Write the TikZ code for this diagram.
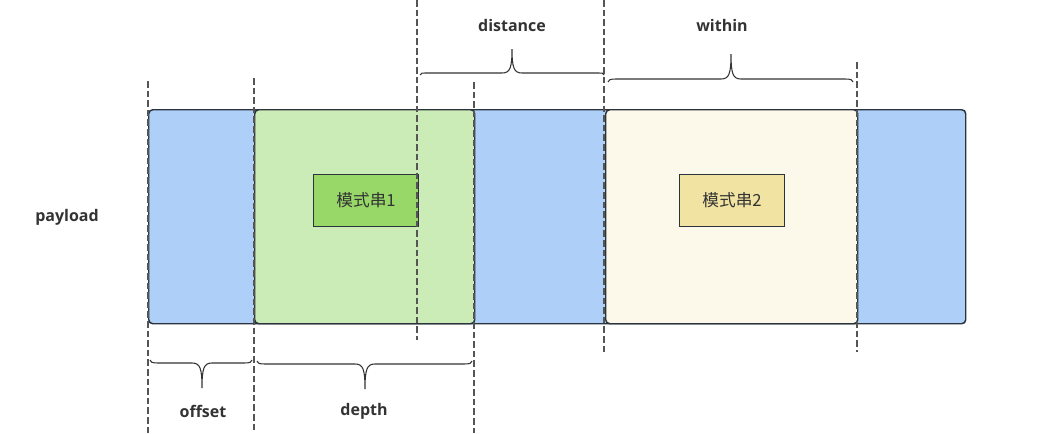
\documentclass[tikz,border=0pt]{standalone}
\usepackage{fontspec}
\setmainfont{Open Sans}
\newfontfamily\cjk{Noto Sans CJK SC}
\definecolor{cblue}{HTML}{AECFF7}
\definecolor{cgreen}{HTML}{CCECB7}
\definecolor{cgreenbox}{HTML}{97D868}
\definecolor{ccream}{HTML}{FCF8EA}
\definecolor{cyellow}{HTML}{F1E3A2}
\definecolor{cstroke}{HTML}{2B333D}
\definecolor{ctext}{HTML}{333333}
\definecolor{cdash}{HTML}{555555}
\tikzset{
  region/.style={draw=cstroke, line width=1.1pt, rounded corners=3pt},
  patbox/.style={draw=cstroke, line width=0.9pt},
  guide/.style={draw=cdash, line width=0.8pt, dash pattern=on 5pt off 2.2pt},
  bracepath/.style={draw=ctext, line width=0.8pt},
  lbl/.style={font=\bfseries\fontsize{12}{14}\selectfont, text=ctext},
  cjklbl/.style={font=\cjk\fontsize{12.5}{14}\selectfont, text=ctext},
}
\begin{document}
\begin{tikzpicture}[x=0.75pt,y=-0.75pt]
\useasboundingbox (0,0) rectangle (1044,433);
% regions
\node[region, fill=cblue, minimum width=817*0.75pt, minimum height=214*0.75pt, anchor=north west, inner sep=0pt] (payloadbox) at (148,109) {};
\node[region, fill=cgreen, minimum width=220*0.75pt, minimum height=214*0.75pt, anchor=north west, inner sep=0pt] (depthbox) at (254,109) {};
\node[region, fill=ccream, minimum width=252*0.75pt, minimum height=214*0.75pt, anchor=north west, inner sep=0pt] (withinbox) at (605,109) {};
\node[patbox, fill=cgreenbox, minimum width=105*0.75pt, minimum height=52*0.75pt, anchor=north west, inner sep=0pt] (p1) at (313,174) {};
\node[cjklbl] (p1t) at (p1.center) {模式串1};
\node[patbox, fill=cyellow, minimum width=105*0.75pt, minimum height=52*0.75pt, anchor=north west, inner sep=0pt] (p2) at (679,174) {};
\node[cjklbl] (p2t) at (p2.center) {模式串2};
% guides
\coordinate (g1a) at (148,81);  \coordinate (g1b) at (148,433);
\coordinate (g2a) at (254,78);  \coordinate (g2b) at (254,433);
\coordinate (g3a) at (417,0);   \coordinate (g3b) at (417,340);
\coordinate (g4a) at (474,82);  \coordinate (g4b) at (474,433);
\coordinate (g5a) at (604,0);   \coordinate (g5b) at (604,352);
\coordinate (g6a) at (857,62);  \coordinate (g6b) at (857,352);
\foreach \g in {1,...,6} {\draw[guide] (g\g a) -- (g\g b);}
% braces (up-pointing)
\draw[bracepath] (420,75) .. controls (420,73) and (422,73) .. (428,73) -- (502,73)
  .. controls (510,73) and (512,68) .. (512,49)
  .. controls (512,68) and (514,73) .. (522,73) -- (596,73)
  .. controls (602,73) and (604,73) .. (604,75);
\draw[bracepath] (608,82) .. controls (608,80) and (610,79) .. (616,79) -- (721,79)
  .. controls (729,79) and (731,74) .. (731,54)
  .. controls (731,74) and (733,79) .. (741,79) -- (845,79)
  .. controls (851,79) and (853,80) .. (853,82);
% braces (down-pointing)
\draw[bracepath] (150,360) .. controls (150,362) and (152,363) .. (158,363) -- (192,363)
  .. controls (200,363) and (202,368) .. (202,388)
  .. controls (202,368) and (204,363) .. (212,363) -- (244,363)
  .. controls (250,363) and (252,362) .. (252,360);
\draw[bracepath] (257,361) .. controls (257,363) and (259,364) .. (265,364) -- (355,364)
  .. controls (363,364) and (365,369) .. (365,389)
  .. controls (365,369) and (367,364) .. (375,364) -- (464,364)
  .. controls (470,364) and (472,363) .. (472,361);
% labels
\node[lbl] (payload) at (67,217) {payload};
\node[lbl] (distance) at (512,25) {distance};
\node[lbl] (within) at (722,25) {within};
\node[lbl] (offset) at (203,411) {offset};
\node[lbl] (depth) at (364,411) {depth};
\end{tikzpicture}
\end{document}
